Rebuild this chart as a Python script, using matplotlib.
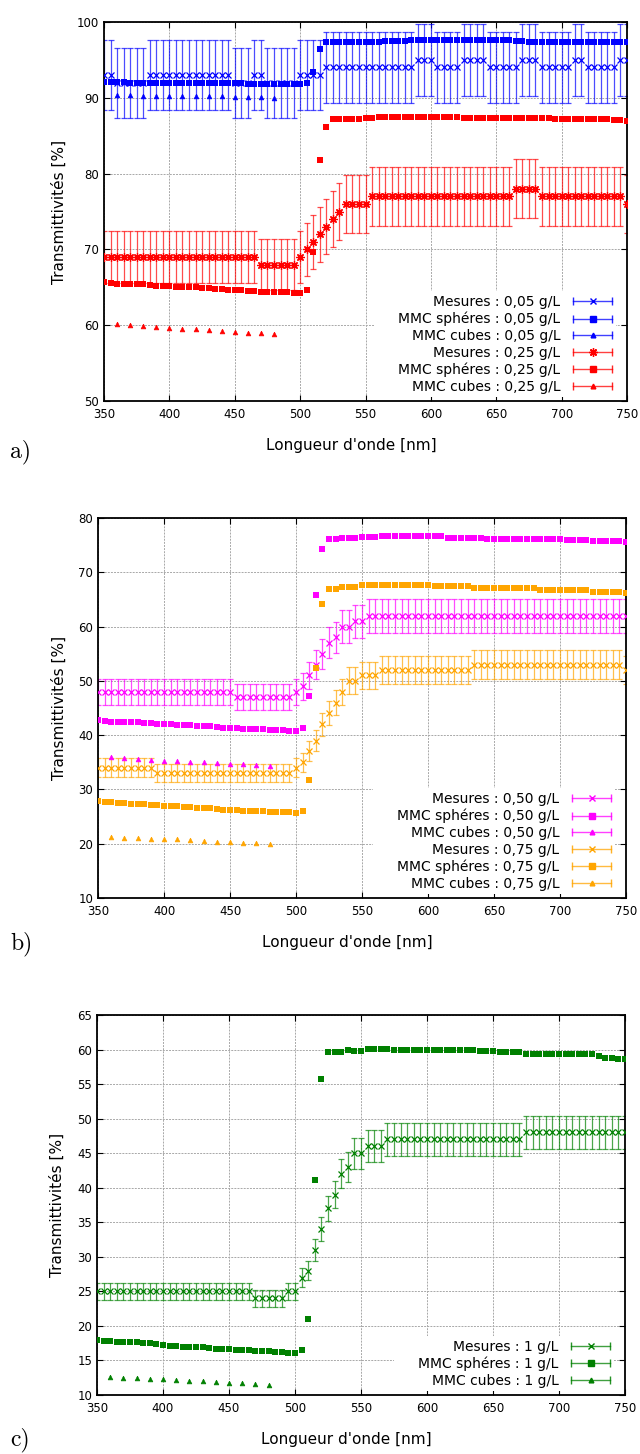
"""
Transmittivites mesurees vs MMC (spheres / cubes), three concentrations panels
"""
import numpy as np
import matplotlib
matplotlib.use("Agg")
import matplotlib.pyplot as plt
from matplotlib.lines import Line2D
from matplotlib.legend_handler import HandlerBase
from matplotlib.patches import Rectangle

# wavelengths [nm]
wl = np.arange(350, 755, 5)
wl_cubes = np.arange(360, 490, 10)
REL_ERR = 0.05  # error bars = 5 % of measured value

# ---- panel a : 0,05 g/L and 0,25 g/L
mes_005 = [93, 93, 92, 92, 92, 92, 92, 93, 93, 93,
           93, 93, 93, 93, 93, 93, 93, 93, 93, 93,
           92, 92, 92, 93, 93, 92, 92, 92, 92, 92,
           93, 93, 93, 93, 94, 94, 94, 94, 94, 94,
           94, 94, 94, 94, 94, 94, 94, 94, 95, 95,
           95, 94, 94, 94, 94, 95, 95, 95, 95, 94,
           94, 94, 94, 94, 95, 95, 95, 94, 94, 94,
           94, 94, 95, 95, 94, 94, 94, 94, 94, 95,
           95]
sph_005 = [92.1, 92.1, 92.1, 92.1, 92.0, 92.0, 92.0, 92.0, 92.0, 92.0,
           92.0, 92.0, 92.0, 91.9, 91.9, 91.9, 91.9, 91.9, 91.9, 91.9,
           91.9, 91.9, 91.8, 91.8, 91.8, 91.8, 91.8, 91.8, 91.8, 91.8,
           91.8, 92.0, 93.4, 96.4, 97.4, 97.4, 97.4, 97.4, 97.4, 97.4,
           97.4, 97.4, 97.4, 97.5, 97.5, 97.5, 97.5, 97.6, 97.6, 97.6,
           97.6, 97.6, 97.6, 97.6, 97.6, 97.6, 97.6, 97.6, 97.6, 97.6,
           97.6, 97.6, 97.6, 97.5, 97.5, 97.4, 97.4, 97.4, 97.4, 97.4,
           97.4, 97.4, 97.4, 97.4, 97.4, 97.4, 97.4, 97.4, 97.4, 97.4,
           97.3]
cub_005 = [90.4, 90.4, 90.3, 90.3, 90.3, 90.3, 90.2, 90.2, 90.2, 90.1,
           90.1, 90.1, 90.0]

mes_025 = [69, 69, 69, 69, 69, 69, 69, 69, 69, 69,
           69, 69, 69, 69, 69, 69, 69, 69, 69, 69,
           69, 69, 69, 69, 68, 68, 68, 68, 68, 68,
           69, 70, 71, 72, 73, 74, 75, 76, 76, 76,
           76, 77, 77, 77, 77, 77, 77, 77, 77, 77,
           77, 77, 77, 77, 77, 77, 77, 77, 77, 77,
           77, 77, 77, 78, 78, 78, 78, 77, 77, 77,
           77, 77, 77, 77, 77, 77, 77, 77, 77, 77,
           76]
sph_025 = [65.7, 65.6, 65.5, 65.5, 65.5, 65.4, 65.4, 65.3, 65.2, 65.2,
           65.2, 65.1, 65.1, 65.0, 65.0, 64.9, 64.9, 64.8, 64.8, 64.7,
           64.6, 64.6, 64.5, 64.5, 64.4, 64.4, 64.4, 64.4, 64.4, 64.2,
           64.2, 64.6, 69.7, 81.8, 86.1, 87.2, 87.2, 87.2, 87.2, 87.2,
           87.4, 87.4, 87.5, 87.5, 87.5, 87.5, 87.5, 87.5, 87.5, 87.5,
           87.5, 87.5, 87.5, 87.5, 87.5, 87.4, 87.4, 87.4, 87.4, 87.4,
           87.4, 87.4, 87.3, 87.3, 87.3, 87.3, 87.3, 87.3, 87.3, 87.2,
           87.2, 87.2, 87.2, 87.2, 87.2, 87.2, 87.2, 87.2, 87.1, 87.1,
           86.9]
cub_025 = [60.2, 60.0, 59.9, 59.7, 59.6, 59.5, 59.5, 59.4, 59.3, 59.1,
           59.0, 59.0, 58.8]

# ---- panel b : 0,50 g/L and 0,75 g/L
mes_050 = [48, 48, 48, 48, 48, 48, 48, 48, 48, 48,
           48, 48, 48, 48, 48, 48, 48, 48, 48, 48,
           48, 47, 47, 47, 47, 47, 47, 47, 47, 47,
           48, 49, 51, 53, 55, 57, 58, 60, 60, 61,
           61, 62, 62, 62, 62, 62, 62, 62, 62, 62,
           62, 62, 62, 62, 62, 62, 62, 62, 62, 62,
           62, 62, 62, 62, 62, 62, 62, 62, 62, 62,
           62, 62, 62, 62, 62, 62, 62, 62, 62, 62,
           62]
sph_050 = [42.7, 42.6, 42.5, 42.5, 42.4, 42.4, 42.4, 42.3, 42.2, 42.1,
           42.1, 42.0, 41.9, 41.9, 41.8, 41.7, 41.6, 41.6, 41.5, 41.4,
           41.4, 41.3, 41.2, 41.2, 41.1, 41.1, 41.0, 40.9, 40.9, 40.8,
           40.8, 41.3, 47.3, 65.8, 74.2, 76.1, 76.2, 76.3, 76.3, 76.4,
           76.5, 76.5, 76.5, 76.6, 76.6, 76.6, 76.6, 76.6, 76.6, 76.6,
           76.6, 76.6, 76.6, 76.4, 76.4, 76.4, 76.4, 76.4, 76.4, 76.2,
           76.2, 76.2, 76.2, 76.2, 76.1, 76.1, 76.1, 76.1, 76.1, 76.1,
           76.1, 75.9, 75.9, 75.9, 75.9, 75.7, 75.7, 75.7, 75.7, 75.7,
           75.5]
cub_050 = [35.9, 35.7, 35.6, 35.5, 35.3, 35.2, 35.1, 35.0, 34.8, 34.7,
           34.6, 34.5, 34.3]

mes_075 = [34, 34, 34, 34, 34, 34, 34, 34, 34, 33,
           33, 33, 33, 33, 33, 33, 33, 33, 33, 33,
           33, 33, 33, 33, 33, 33, 33, 33, 33, 33,
           34, 35, 37, 39, 42, 44, 46, 48, 50, 50,
           51, 51, 51, 52, 52, 52, 52, 52, 52, 52,
           52, 52, 52, 52, 52, 52, 52, 53, 53, 53,
           53, 53, 53, 53, 53, 53, 53, 53, 53, 53,
           53, 53, 53, 53, 53, 53, 53, 53, 53, 53,
           52]
sph_075 = [27.8, 27.7, 27.6, 27.5, 27.5, 27.4, 27.3, 27.3, 27.2, 27.1,
           27.0, 26.9, 26.9, 26.8, 26.7, 26.6, 26.6, 26.5, 26.4, 26.3,
           26.3, 26.2, 26.1, 26.1, 26.0, 26.0, 25.9, 25.8, 25.8, 25.8,
           25.6, 26.0, 31.7, 52.3, 64.2, 67.0, 67.0, 67.3, 67.3, 67.3,
           67.6, 67.6, 67.6, 67.6, 67.6, 67.6, 67.6, 67.6, 67.6, 67.6,
           67.6, 67.4, 67.4, 67.4, 67.4, 67.4, 67.4, 67.1, 67.1, 67.1,
           67.1, 67.1, 67.1, 67.1, 67.1, 67.1, 67.1, 66.8, 66.8, 66.8,
           66.8, 66.8, 66.8, 66.8, 66.8, 66.4, 66.4, 66.4, 66.4, 66.4,
           66.2]
cub_075 = [21.3, 21.1, 21.1, 20.9, 20.8, 20.8, 20.6, 20.5, 20.4, 20.3,
           20.1, 20.1, 20.0]

# ---- panel c : 1 g/L
mes_100 = [25, 25, 25, 25, 25, 25, 25, 25, 25, 25,
           25, 25, 25, 25, 25, 25, 25, 25, 25, 25,
           25, 25, 25, 25, 24, 24, 24, 24, 24, 25,
           25, 27, 28, 31, 34, 37, 39, 42, 43, 45,
           45, 46, 46, 46, 47, 47, 47, 47, 47, 47,
           47, 47, 47, 47, 47, 47, 47, 47, 47, 47,
           47, 47, 47, 47, 47, 48, 48, 48, 48, 48,
           48, 48, 48, 48, 48, 48, 48, 48, 48, 48,
           48]
sph_100 = [17.9, 17.8, 17.8, 17.7, 17.7, 17.6, 17.6, 17.5, 17.5, 17.4,
           17.2, 17.1, 17.1, 17.0, 17.0, 16.9, 16.9, 16.8, 16.7, 16.7,
           16.6, 16.5, 16.5, 16.5, 16.4, 16.4, 16.3, 16.2, 16.2, 16.1,
           16.1, 16.5, 21.0, 41.1, 55.7, 59.6, 59.6, 59.6, 59.9, 59.8,
           59.8, 60.1, 60.1, 60.1, 60.1, 60.0, 60.0, 60.0, 60.0, 60.0,
           60.0, 60.0, 60.0, 60.0, 60.0, 60.0, 60.0, 59.9, 59.8, 59.8,
           59.8, 59.6, 59.6, 59.6, 59.6, 59.4, 59.4, 59.4, 59.4, 59.3,
           59.3, 59.3, 59.3, 59.3, 59.3, 59.3, 59.1, 58.8, 58.8, 58.7,
           58.7]
cub_100 = [12.6, 12.4, 12.4, 12.3, 12.3, 12.2, 12.0, 12.0, 11.9, 11.7,
           11.7, 11.6, 11.4]

FIG_W, FIG_H = 640, 1454


class GnuKey(HandlerBase):
    """legend sample drawn like gnuplot's errorbar key: |---marker---|"""
    def create_artists(self, legend, orig_handle, xdescent, ydescent,
                       width, height, fontsize, trans):
        c = orig_handle.get_color()
        y = (height - ydescent) / 2.0
        x1, x2 = -xdescent, width - xdescent
        line = Line2D([x1, x2], [y, y], color=c, lw=1.0, alpha=0.75)
        caps = Line2D([x1, x2], [y, y], ls="none", marker="|", ms=6,
                      mew=1.0, color=c, alpha=0.85)
        mk = Line2D([(x1 + x2) / 2.0], [y], ls="none",
                    marker=orig_handle.get_marker(),
                    ms=orig_handle.get_markersize(), mew=1.0, color=c)
        for a in (line, caps, mk):
            a.set_transform(trans)
        return [line, caps, mk]


def add_axes_px(fig, left, right, top, bottom):
    return fig.add_axes([left / FIG_W, (FIG_H - bottom) / FIG_H,
                         (right - left) / FIG_W, (bottom - top) / FIG_H])


def draw_panel(ax, series, ylim, ystep, ylab_x):
    handles, labels = [], []
    for conc, color, mk, mes, sph, cub in series:
        mes = np.array(mes, dtype=float)
        ax.errorbar(wl, mes, yerr=REL_ERR * mes, fmt="none", ecolor=color,
                    elinewidth=0.9, capsize=2.2, capthick=0.9, alpha=0.7,
                    zorder=2)
        ms_mes = 6 if mk != "x" else 5
        ax.plot(wl, mes, ls="none", marker=mk, ms=ms_mes, mew=0.9,
                color=color, zorder=3)
        ax.plot(wl, sph, ls="none", marker="s", ms=4.6, mew=0,
                color=color, zorder=3)
        ax.plot(wl_cubes, cub, ls="none", marker="^", ms=3.4, mew=0.5,
                color=color, zorder=3)
        handles += [Line2D([], [], color=color, marker=mk, ms=ms_mes),
                    Line2D([], [], color=color, marker="s", ms=4.6),
                    Line2D([], [], color=color, marker="^", ms=3.4)]
        labels += ["Mesures : %s g/L" % conc,
                   "MMC sphéres : %s g/L" % conc,
                   "MMC cubes : %s g/L" % conc]

    ax.set_xlim(350, 750)
    ax.set_ylim(*ylim)
    ax.set_xticks(np.arange(350, 751, 50))
    ax.set_yticks(np.arange(ylim[0], ylim[1] + 0.1, ystep))
    ax.tick_params(direction="in", length=4, width=0.8, labelsize=8.5,
                   top=True, right=True, pad=3.5)
    ax.tick_params(axis="x", pad=5)
    for s in ax.spines.values():
        s.set_linewidth(1.3)
    ax.set_axisbelow(True)
    ax.grid(True, color="#a8a8a8", lw=0.7, ls=(0, (2, 1.2)))
    ax.set_xlabel("Longueur d'onde [nm]", fontsize=11)
    ax.set_ylabel("Transmittivités [%]", fontsize=11)
    ax.xaxis.set_label_coords(0.473, -0.098)
    ax.yaxis.set_label_coords(ylab_x, 0.5)

    leg = ax.legend(handles, labels, loc="lower right",
                    bbox_to_anchor=(1 - 15 / ax.bbox.width, 7 / ax.bbox.height),
                    markerfirst=False, frameon=False, fontsize=10,
                    handlelength=2.8, handletextpad=0.9, labelspacing=0.2,
                    borderpad=0, borderaxespad=0,
                    handler_map={Line2D: GnuKey()})
    return leg


def key_background(fig, ax, leg):
    # opaque white key box hiding the grid, wider on the left like gnuplot
    fig.canvas.draw()
    bb = leg.get_window_extent(fig.canvas.get_renderer())
    inv = ax.transAxes.inverted()
    (x0, y0) = inv.transform((bb.x0 - 24, bb.y0 - 3))
    (x1, y1) = inv.transform((bb.x1 + 4, bb.y1 + 4))
    ax.add_patch(Rectangle((x0, y0), x1 - x0, y1 - y0, transform=ax.transAxes,
                           facecolor="white", edgecolor="none", zorder=1))


fig = plt.figure(figsize=(FIG_W / 100, FIG_H / 100), dpi=100)

ax_a = add_axes_px(fig, 104, 627, 22, 401)
ax_b = add_axes_px(fig, 98, 626, 518, 898)
ax_c = add_axes_px(fig, 97, 625, 1015, 1395)

leg_a = draw_panel(ax_a, [("0,05", "#0000ff", "x", mes_005, sph_005, cub_005),
                          ("0,25", "#ff0000", (8, 2, 0), mes_025, sph_025, cub_025)],
                   (50, 100), 10, (67 - 104) / 523)
leg_b = draw_panel(ax_b, [("0,50", "#ff00ff", "x", mes_050, sph_050, cub_050),
                          ("0,75", "#ffa500", "x", mes_075, sph_075, cub_075)],
                   (10, 80), 10, (67 - 98) / 528)
leg_c = draw_panel(ax_c, [("1", "#008000", "x", mes_100, sph_100, cub_100)],
                   (10, 65), 5, (65 - 97) / 528)

for ax, leg in ((ax_a, leg_a), (ax_b, leg_b), (ax_c, leg_c)):
    key_background(fig, ax, leg)

for lab, ypx in (("a)", 452), ("b)", 944), ("c)", 1440)):
    fig.text(10 / FIG_W, 1 - ypx / FIG_H, lab, fontfamily="cmr10",
             fontsize=17, ha="left", va="center")

fig.savefig("out.png", dpi=100)
